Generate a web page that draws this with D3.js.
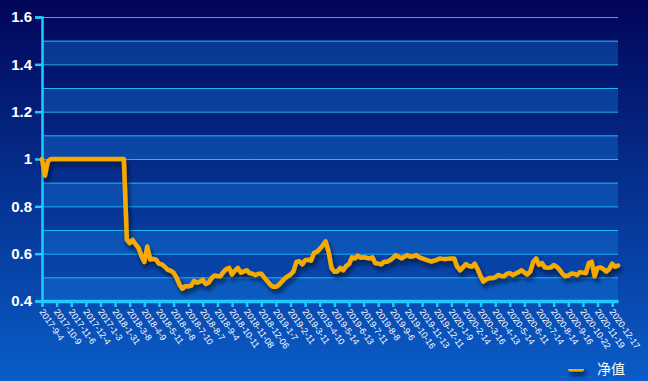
<!DOCTYPE html>
<html><head><meta charset="utf-8">
<script src="https://cdn.jsdelivr.net/npm/d3@7/dist/d3.min.js"></script>
<style>html,body{margin:0;padding:0;overflow:hidden;background:#02075c}</style>
</head><body>
<svg id="chart" width="648" height="381"></svg>
<script>
// ---- data ----
const seriesName = "净值";
const tickLabels = ["2017-9-4","2017-10-9","2017-11-6","2017-12-4","2017-1-3","2018-1-31","2018-3-8","2018-4-9","2018-5-11","2018-6-8","2018-7-10","2018-8-7","2018-9-4","2018-10-11","2018-11-08","2018-12-06","2019-1-7","2019-2-11","2019-3-11","2019-4-10","2019-5-14","2019-6-13","2019-7-11","2019-8-8","2019-9-6","2019-10-16","2019-11-13","2019-12-11","2020-1-9","2020-2-14","2020-3-16","2020-4-13","2020-5-14","2020-6-11","2020-7-14","2020-8-14","2020-9-16","2020-10-22","2020-11-19","2020-12-17"];
const navValues = [
1.0,0.93,0.99,1.0,1.0,1.0,1.0,1.0,1.0,1.0,
1.0,1.0,1.0,1.0,1.0,1.0,1.0,1.0,1.0,1.0,
1.0,1.0,1.0,1.0,1.0,1.0,1.0,1.0,1.0,0.66,
0.645,0.658,0.64,0.625,0.59,0.565,0.63,0.575,0.578,0.575,
0.558,0.555,0.545,0.532,0.528,0.52,0.5,0.47,0.452,0.462,
0.462,0.465,0.485,0.478,0.482,0.49,0.472,0.478,0.497,0.508,
0.506,0.505,0.522,0.535,0.54,0.512,0.528,0.54,0.52,0.525,
0.53,0.518,0.515,0.51,0.515,0.515,0.5,0.485,0.47,0.46,
0.46,0.468,0.482,0.495,0.505,0.512,0.525,0.565,0.568,0.555,
0.572,0.575,0.57,0.603,0.608,0.62,0.635,0.652,0.61,0.54,
0.524,0.525,0.54,0.53,0.548,0.556,0.585,0.58,0.592,0.583,
0.585,0.583,0.58,0.585,0.56,0.558,0.555,0.566,0.566,0.572,
0.582,0.594,0.587,0.58,0.588,0.594,0.587,0.59,0.594,0.585,
0.58,0.576,0.572,0.567,0.57,0.574,0.58,0.578,0.577,0.579,
0.58,0.58,0.545,0.53,0.543,0.556,0.548,0.545,0.558,0.535,
0.505,0.482,0.492,0.497,0.497,0.5,0.51,0.506,0.505,0.515,
0.518,0.51,0.516,0.522,0.53,0.52,0.512,0.525,0.565,0.58,
0.553,0.56,0.542,0.54,0.542,0.552,0.545,0.533,0.515,0.505,
0.508,0.516,0.515,0.51,0.522,0.52,0.518,0.56,0.566,0.505,
0.54,0.542,0.535,0.525,0.535,0.558,0.545,0.55
];
const labelEvery = 5;
const yTicks = [0.4,0.6,0.8,1.0,1.2,1.4,1.6];
const yGrid = [0.5,0.6,0.7,0.8,0.9,1.0,1.1,1.2,1.3,1.4,1.5,1.6];
const yBands = [[0.4,0.5],[0.6,0.7],[0.8,0.9],[1.0,1.1],[1.2,1.3],[1.4,1.5]];

// ---- layout ----
const W = 648, H = 381;
const mLeft = 42, mRight = 618, mTop = 17, mBottom = 301;
const svg = d3.select("#chart");
const defs = svg.append("defs");
const grad = defs.append("linearGradient").attr("id","bg").attr("x1",0).attr("y1",0).attr("x2",0).attr("y2",1);
grad.append("stop").attr("offset","0%").attr("stop-color","#010559");
grad.append("stop").attr("offset","100%").attr("stop-color","#0a5dc8");
const f = defs.append("filter").attr("id","shadow").attr("filterUnits","userSpaceOnUse")
  .attr("x",0).attr("y",0).attr("width",W).attr("height",H);
f.append("feDropShadow").attr("dx",2).attr("dy",4).attr("stdDeviation",2).attr("flood-color","#000820").attr("flood-opacity",0.7);

svg.append("rect").attr("width",W).attr("height",H).attr("fill","url(#bg)");

const idx = d3.range(navValues.length);
const x = d3.scalePoint().domain(idx).range([mLeft, mRight]);
const y = d3.scaleLinear().domain([0.4,1.6]).range([mBottom, mTop]);

// bands
svg.append("g").selectAll("rect").data(yBands).join("rect")
  .attr("x", mLeft).attr("width", mRight-mLeft)
  .attr("y", d => y(d[1])).attr("height", d => y(d[0]) - y(d[1]))
  .attr("fill", "rgba(20,120,220,0.38)");

// grid lines
svg.append("g").selectAll("line").data(yGrid).join("line")
  .attr("x1", mLeft).attr("x2", mRight)
  .attr("y1", d => y(d)+0.5).attr("y2", d => y(d)+0.5)
  .attr("stroke", "#1fb8f2").attr("stroke-width", 1);

// y axis
const yAxis = svg.append("g").attr("transform", `translate(${mLeft},0)`)
  .call(d3.axisLeft(y).tickValues(yTicks).tickSize(7).tickPadding(3)
        .tickFormat(d => d3.format("")(+d.toFixed(1))));
yAxis.select(".domain").attr("stroke","#1ecbff").attr("stroke-width",2.5);
yAxis.selectAll(".tick line").attr("stroke","#1ecbff").attr("stroke-width",2.5);
yAxis.selectAll(".tick text").attr("fill","#ffffff")
  .attr("font-family","'Liberation Sans', Arial, sans-serif")
  .attr("font-weight","bold").attr("font-size","15px");

// x axis
const tickIdx = tickLabels.map((t,i) => i*labelEvery);
const xAxis = svg.append("g").attr("transform", `translate(0,${mBottom})`)
  .call(d3.axisBottom(x).tickValues(tickIdx).tickSize(6).tickSizeOuter(0)
        .tickFormat(d => tickLabels[d/labelEvery]));
xAxis.select(".domain").attr("stroke","#1ecbff").attr("stroke-width",3.5);
xAxis.selectAll(".tick line").attr("stroke","#1ecbff").attr("stroke-width",2.5);
xAxis.selectAll(".tick text").attr("fill","#ffffff")
  .attr("font-family","'Liberation Sans', Arial, sans-serif")
  .attr("font-size","9px")
  .attr("text-anchor","start")
  .attr("dy","0.35em")
  .attr("transform","translate(-1,9) rotate(55)")
  .attr("y",0).attr("x",0);

// line
const line = d3.line().x((d,i) => x(i)).y(d => y(d)).curve(d3.curveLinear);
svg.append("path").datum(navValues)
  .attr("d", line).attr("fill","none")
  .attr("stroke","#f6aa05").attr("stroke-width",4.5)
  .attr("stroke-linejoin","round").attr("stroke-linecap","round")
  .attr("filter","url(#shadow)");

// legend
const lg = svg.append("g").attr("transform","translate(568,369)");
lg.append("rect").attr("x",0).attr("y",-2.5).attr("width",16).attr("height",5).attr("rx",2.5)
  .attr("fill","#f6aa05").attr("filter","url(#shadow)");
lg.append("text").attr("x",29).attr("y",0).attr("dy","0.36em")
  .attr("fill","#ffffff").attr("font-size","14px")
  .attr("font-family","'Noto Sans CJK SC', sans-serif")
  .text(seriesName);
</script>
</body></html>
